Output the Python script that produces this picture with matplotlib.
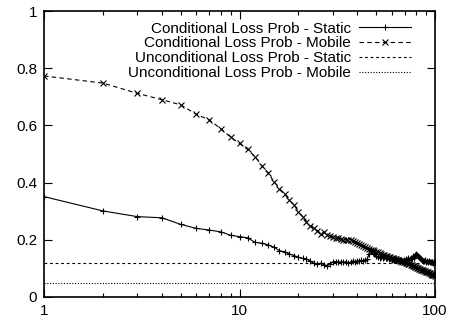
#!/usr/bin/env python3

import numpy as np
import matplotlib.pyplot as plt
from matplotlib.ticker import LogLocator, NullFormatter

plt.rcParams['font.family'] = ['Liberation Sans', 'DejaVu Sans']

# burst length 1..100
burst = list(range(1, 101))

cond_static = [
	0.351, 0.301, 0.281, 0.277, 0.254, 0.240, 0.234, 0.228, 0.216, 0.211,
	0.207, 0.191, 0.188, 0.182, 0.174, 0.162, 0.158, 0.150, 0.145, 0.139,
	0.135, 0.133, 0.125, 0.118, 0.116, 0.118, 0.113, 0.110, 0.114, 0.123,
	0.124, 0.122, 0.123, 0.121, 0.124, 0.119, 0.122, 0.126, 0.124, 0.127,
	0.125, 0.128, 0.126, 0.129, 0.133, 0.150, 0.160, 0.158, 0.150, 0.143,
	0.140, 0.138, 0.141, 0.136, 0.139, 0.135, 0.137, 0.133, 0.136, 0.131,
	0.134, 0.130, 0.133, 0.129, 0.132, 0.128, 0.131, 0.127, 0.130, 0.126,
	0.132, 0.128, 0.135, 0.130, 0.138, 0.133, 0.142, 0.138, 0.146, 0.150,
	0.148, 0.143, 0.139, 0.135, 0.132, 0.129, 0.127, 0.125, 0.128, 0.124,
	0.126, 0.123, 0.125, 0.122, 0.124, 0.121, 0.123, 0.120, 0.122, 0.121,
]

cond_mobile = [
	0.773, 0.748, 0.712, 0.690, 0.672, 0.639, 0.619, 0.589, 0.559, 0.537,
	0.516, 0.491, 0.459, 0.434, 0.403, 0.379, 0.360, 0.339, 0.322, 0.298,
	0.281, 0.262, 0.248, 0.240, 0.232, 0.222, 0.226, 0.218, 0.214, 0.210,
	0.208, 0.205, 0.203, 0.200, 0.201, 0.198, 0.199, 0.196, 0.193, 0.190,
	0.186, 0.183, 0.179, 0.176, 0.172, 0.169, 0.166, 0.163, 0.161, 0.158,
	0.156, 0.153, 0.151, 0.148, 0.146, 0.144, 0.142, 0.141, 0.139, 0.137,
	0.135, 0.134, 0.132, 0.131, 0.129, 0.127, 0.126, 0.124, 0.122, 0.121,
	0.119, 0.118, 0.116, 0.114, 0.113, 0.111, 0.109, 0.108, 0.106, 0.104,
	0.103, 0.101, 0.099, 0.098, 0.096, 0.095, 0.093, 0.092, 0.090, 0.089,
	0.087, 0.086, 0.084, 0.083, 0.081, 0.080, 0.078, 0.077, 0.076, 0.074,
]

uncond_static = 0.12
uncond_mobile = 0.05

labels = ['Conditional Loss Prob - Static', 'Conditional Loss Prob - Mobile',
	'Unconditional Loss Prob - Static', 'Unconditional Loss Prob - Mobile']


def main():
	fig = plt.figure(figsize=(4.5, 3.2), dpi=100)
	ax = fig.add_axes([0.0978, 0.0719, 0.869, 0.8937])

	ax.plot(burst, cond_static, color='black', lw=0.8, marker='+', ms=5, mew=0.8, label=labels[0])
	ax.plot(burst, cond_mobile, color='black', lw=0.8, ls=(0, (4, 3)), marker='x', ms=4.5, mew=0.8, label=labels[1])
	ax.axhline(uncond_static, color='black', lw=0.8, ls=(0, (2.5, 2.5)), label=labels[2])
	ax.axhline(uncond_mobile, color='black', lw=0.8, ls=(0, (1, 1.5)), label=labels[3])

	ax.set_xscale('log')
	ax.set_xlim(1, 100)
	ax.set_ylim(0, 1)
	ax.set_xticks([1, 10, 100])
	ax.set_xticklabels(['1', '10', '100'])
	ax.xaxis.set_minor_locator(LogLocator(base=10, subs=np.arange(2, 10)))
	ax.xaxis.set_minor_formatter(NullFormatter())
	ax.set_yticks([0, 0.2, 0.4, 0.6, 0.8, 1])
	ax.set_yticklabels(['0', '0.2', '0.4', '0.6', '0.8', '1'])

	ax.tick_params(which='both', direction='in', top=True, right=True, labelsize=11, pad=5, width=0.8)
	ax.tick_params(which='major', length=6)
	ax.tick_params(which='minor', length=3)
	for s in ax.spines.values():
		s.set_linewidth(1.2)

	ax.legend(loc='upper right', bbox_to_anchor=(0.965, 1.0), frameon=False, markerfirst=False,
		fontsize=11, handlelength=3.4, labelspacing=0.05, borderpad=0.2, handletextpad=0.5)

	fig.savefig('out.png', dpi=100)

if __name__=="__main__":
	main()
